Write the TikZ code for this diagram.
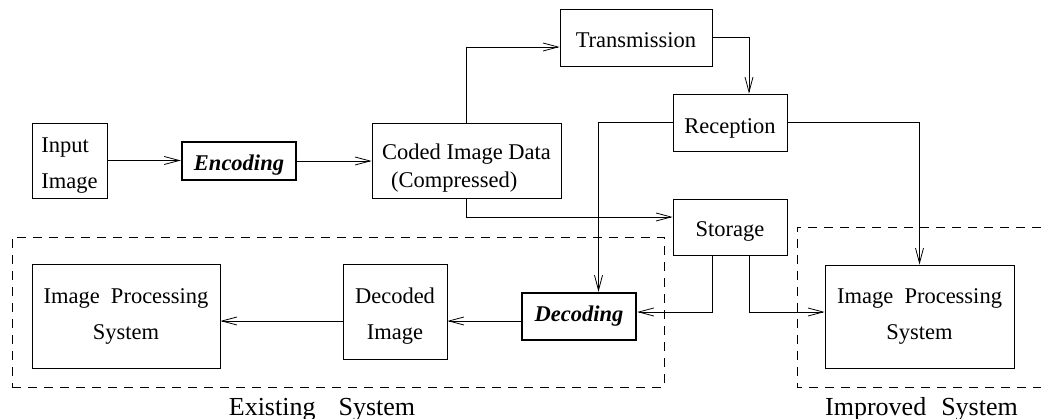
\documentclass[tikz,border=0pt]{standalone}
\usepackage{fontspec}
\setmainfont{Liberation Serif}
\usetikzlibrary{arrows.meta}
% invisible strut that sets the height of a first text line
\newcommand{\tallline}[1]{\rule{0pt}{#1}}
\begin{document}
\begin{tikzpicture}[x=1pt,y=-1pt,
  box/.style={draw, line width=0.8pt, inner sep=0pt, font=\fontsize{22.5}{36}\selectfont},
  boldbox/.style={box, line width=2.4pt, font=\fontsize{22.5}{27}\selectfont\bfseries\itshape},
  arr/.style={line width=0.8pt, -{Straight Barb[length=15pt,width=8pt,line width=0.8pt]}},
  frame/.style={line width=0.8pt, dash pattern=on 9pt off 7pt},
  caption/.style={font=\fontsize{26}{30}\selectfont, inner sep=0pt, anchor=base}]
\useasboundingbox (0,0) rectangle (1041,419);

% upper chain: source, coder, channel
\node[box, align=left, minimum width=75pt, minimum height=75pt] (inp) at (69.5,160.5) {\tallline{24pt}Input\\Image};
\node[boldbox, minimum width=114pt, minimum height=38pt] (enc) at (239,161) {\tallline{22.9pt}Encoding};
\node[box, align=left, font=\fontsize{22.5}{28}\selectfont, minimum width=189pt, minimum height=75pt] (coded) at (466.5,160.5) {\tallline{31pt}Coded Image Data\\\hspace*{9pt}(Compressed)};
\node[box, minimum width=152pt, minimum height=57pt] (trans) at (636,37.5) {\tallline{19.4pt}Transmission};
\node[box, minimum width=114pt, minimum height=57pt] (recep) at (730,122.5) {\tallline{26.4pt}Reception};
\node[box, minimum width=114pt, minimum height=56pt] (stor) at (730,227) {\tallline{24.2pt}Storage};

% existing system
\node[box, align=center, minimum width=188pt, minimum height=104pt] (ips1) at (126,316) {Image\ \ Processing\\System};
\node[box, align=center, minimum width=104pt, minimum height=95pt] (dec) at (395,311.5) {\tallline{24.4pt}Decoded\\Image};
\node[boldbox, minimum width=114pt, minimum height=47pt] (decoding) at (579,316.5) {Decoding};

% improved system
\node[box, align=center, minimum width=189pt, minimum height=103pt] (ips2) at (919.5,316.5) {Image\ \ Processing\\System};

% system frames
\node[frame, draw, minimum width=652pt, minimum height=150pt, inner sep=0pt] (exist) at (338,312) {};
\draw[frame] (1041,227) -- (797,227) -- (797,387) -- (1041,387);
\node[caption] (existlbl) at (322,415) {Existing\hspace{23pt}System};
\node[caption] (impllbl) at (921.5,415) {Improved\hspace{15pt}System};

% connectors
\draw[arr] (inp.east) -- (inp.east -| enc.west);
\draw[arr] (enc.east) -- (enc.east -| coded.west);
\draw[arr] (coded.north) |- ([yshift=-9.5pt]trans.west);
\draw[arr] (trans.east) -| ([xshift=19pt]recep.north);
\draw[arr] (recep.west) -| ([xshift=19.5pt]decoding.north);
\draw[arr] (recep.east) -| (ips2.north);
\draw[arr] (coded.south) |- ([yshift=10pt]stor.west);
\draw[arr] ([xshift=-18pt]stor.south) |- ([yshift=4.5pt]decoding.east);
\draw[arr] ([xshift=19pt]stor.south) |- ([yshift=4.5pt]ips2.west);
\draw[arr] ([yshift=-4.5pt]decoding.west) -- ([yshift=-4.5pt]decoding.west -| dec.east);
\draw[arr] ([yshift=-9.5pt]dec.west) -- ([yshift=-9.5pt]dec.west -| ips1.east);
\end{tikzpicture}
\end{document}
